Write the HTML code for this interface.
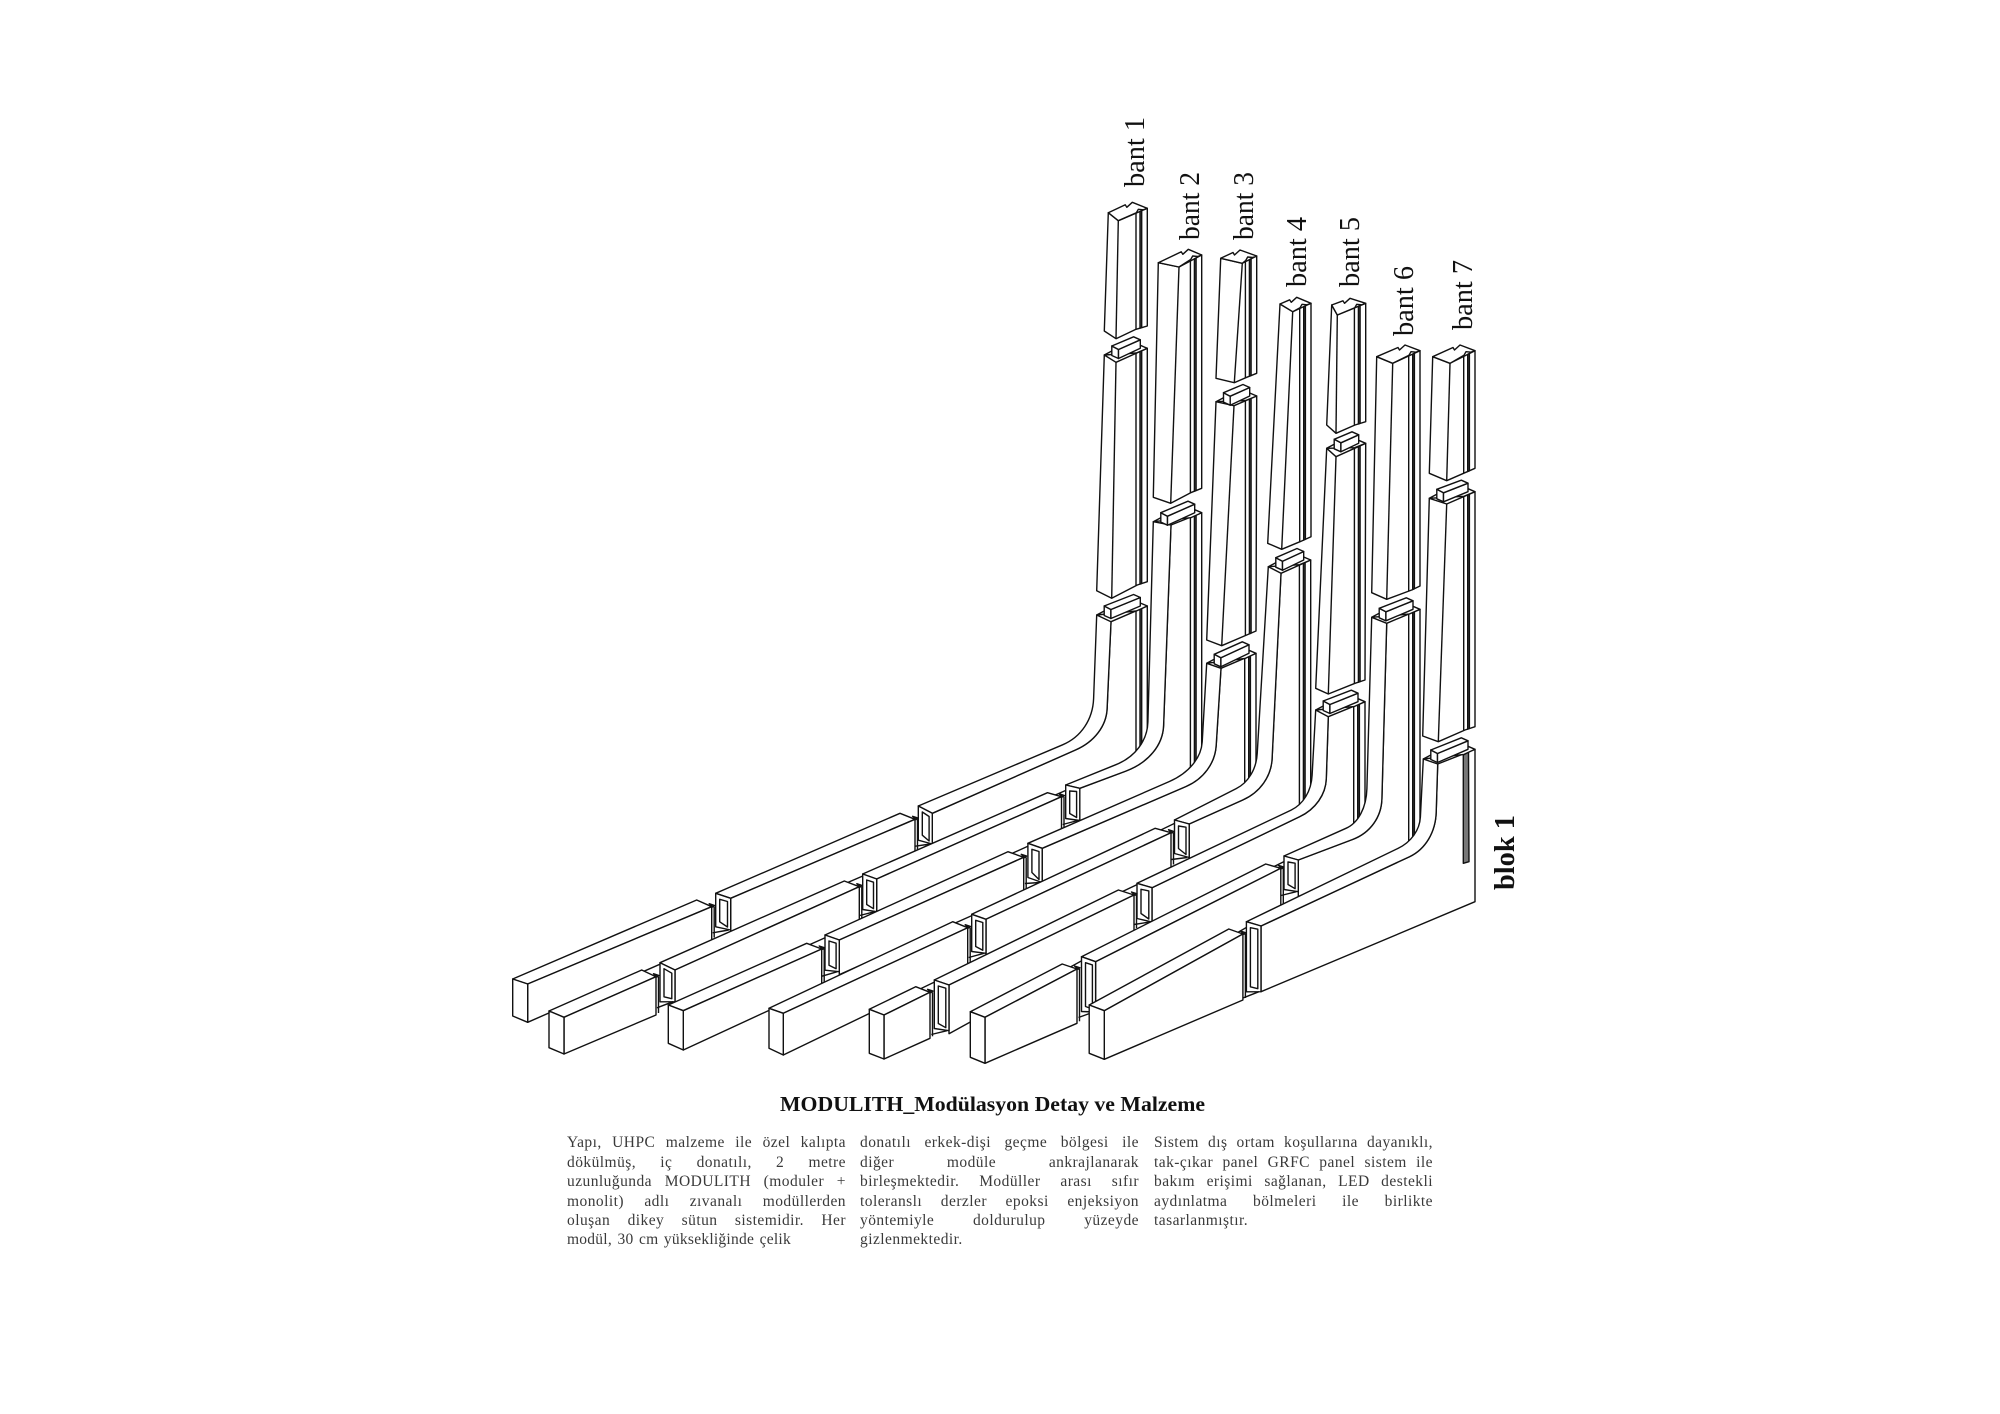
<!DOCTYPE html>
<html><head><meta charset="utf-8"><style>
html,body{margin:0;padding:0;background:#fff}
#p{position:relative;width:2000px;height:1414px;overflow:hidden;background:#fff}
svg{position:absolute;left:0;top:0}
.l{position:absolute;height:19px;line-height:19px;font-family:"Liberation Serif",serif;font-size:15.5px;letter-spacing:.45px;color:#3a3a3a;white-space:normal;text-align:justify;text-align-last:justify}
</style></head><body><div id="p">
<svg id="s" width="2000" height="1414" viewBox="0 0 2000 1414" xmlns="http://www.w3.org/2000/svg">
<g id="g" fill="#fff" stroke="#111" stroke-width="1.4" stroke-linejoin="round"></g>
<g font-family="Liberation Serif, serif" fill="#111" font-size="28">
<text transform="translate(1144,187) rotate(-90)" textLength="70" lengthAdjust="spacingAndGlyphs">bant 1</text>
<text transform="translate(1199,240) rotate(-90)" textLength="68" lengthAdjust="spacingAndGlyphs">bant 2</text>
<text transform="translate(1253,240) rotate(-90)" textLength="68" lengthAdjust="spacingAndGlyphs">bant 3</text>
<text transform="translate(1306,287) rotate(-90)" textLength="70" lengthAdjust="spacingAndGlyphs">bant 4</text>
<text transform="translate(1359,287) rotate(-90)" textLength="70" lengthAdjust="spacingAndGlyphs">bant 5</text>
<text transform="translate(1413,336) rotate(-90)" textLength="70" lengthAdjust="spacingAndGlyphs">bant 6</text>
<text transform="translate(1472,330) rotate(-90)" textLength="70" lengthAdjust="spacingAndGlyphs">bant 7</text>
<text transform="translate(1514,890) rotate(-90)" textLength="75" lengthAdjust="spacingAndGlyphs" font-weight="bold">blok 1</text>
<text x="780" y="1111" font-size="21" font-weight="bold" textLength="425" lengthAdjust="spacingAndGlyphs">MODULITH_Modülasyon Detay ve Malzeme</text>
</g>
</svg>
<div class="l" style="left:567px;top:1133px;width:279px">Yapı, UHPC malzeme ile özel kalıpta</div>
<div class="l" style="left:567px;top:1153px;width:279px">dökülmüş, iç donatılı, 2 metre</div>
<div class="l" style="left:567px;top:1172px;width:279px">uzunluğunda MODULITH (moduler +</div>
<div class="l" style="left:567px;top:1192px;width:279px">monolit) adlı zıvanalı modüllerden</div>
<div class="l" style="left:567px;top:1211px;width:279px">oluşan dikey sütun sistemidir. Her</div>
<div class="l" style="left:567px;top:1230px;width:224px;letter-spacing:.25px">modül, 30 cm yüksekliğinde çelik</div>
<div class="l" style="left:860px;top:1133px;width:279px">donatılı erkek-dişi geçme bölgesi ile</div>
<div class="l" style="left:860px;top:1153px;width:279px">diğer modüle ankrajlanarak</div>
<div class="l" style="left:860px;top:1172px;width:279px">birleşmektedir. Modüller arası sıfır</div>
<div class="l" style="left:860px;top:1192px;width:279px">toleranslı derzler epoksi enjeksiyon</div>
<div class="l" style="left:860px;top:1211px;width:279px">yöntemiyle doldurulup yüzeyde</div>
<div class="l" style="left:860px;top:1230px;width:105px;text-align-last:left">gizlenmektedir.</div>
<div class="l" style="left:1154px;top:1133px;width:279px">Sistem dış ortam koşullarına dayanıklı,</div>
<div class="l" style="left:1154px;top:1153px;width:279px">tak-çıkar panel GRFC panel sistem ile</div>
<div class="l" style="left:1154px;top:1172px;width:279px">bakım erişimi sağlanan, LED destekli</div>
<div class="l" style="left:1154px;top:1192px;width:279px">aydınlatma bölmeleri ile birlikte</div>
<div class="l" style="left:1154px;top:1211px;width:100px;text-align-last:left">tasarlanmıştır.</div>
</div>
<script>
var g=document.getElementById('g'),NS='http://www.w3.org/2000/svg';
function el(d,fill){var e=document.createElementNS(NS,'path');e.setAttribute('d',d);if(fill)e.setAttribute('fill',fill);g.appendChild(e);}
function pp(a){return a[0].toFixed(1)+' '+a[1].toFixed(1);}
function P(a,fill){el('M'+a.map(pp).join('L')+'Z',fill);}
function L(a,b){el('M'+pp(a)+'L'+pp(b),'none');}
function add(a,x,y){return [a[0]+x,a[1]+y];}
function lerp(a,b,x){var t=(x-a[0])/(b[0]-a[0]);return a[1]+(b[1]-a[1])*t;}
function grooves(TF,TR,B0,B1,ext){
  ext=ext||0;
  var x0=TR[0]-7.3,x1=TR[0]-5.6;
  P([[x0,lerp(TF,TR,x0)],[x1,lerp(TF,TR,x1)],[x1,lerp(B0,B1,x1)+ext],[x0,lerp(B0,B1,x0)+ext]],'#555');
  var x=TR[0]-11.3;L([x,lerp(TF,TR,x)],[x,lerp(B0,B1,x)+ext]);
}
function tenon(TL,TR){
  var LT=add(TL,7.5,-9),RT=add(TR,-7,-8.5),Bk=add(RT,-6.7,-3),Fr=add(LT,6.7,3.5),FB=add(Fr,0,9),LB=add(LT,0,9.5),RB=add(RT,0,8.5);
  P([TL,add(TL,7.5,-4),add(TR,-7,-3),TR,[TR[0]-11,lerp(TL,TR,TR[0]-11)+3]]);
  P([LT,Fr,FB,LB]);P([Fr,RT,RB,FB]);P([LT,Bk,RT,Fr]);
}
function mod(m){
  P([m.TL,m.BL,m.BF,m.G,m.BR,m.TR,m.TF]);
  L(m.TF,m.BF);
  grooves(m.TF,m.TR,m.G,m.BR);
  if(m.Bk){
    var k=m.Bk;
    P([m.TL,add(k,-7,2.5),add(k,-5.5,5),k,m.TR,add(m.TR,-4,1.5),add(m.TR,-9,1),add(m.TR,-11,4.5),m.TF]);
  } else tenon(m.TL,m.TR);
}
var E=8;
function seg(a,p1,p2,j){
  var u1=[p1[0]-a[0],p1[1]-a[1]],n1=Math.hypot(u1[0],u1[1]);u1=[u1[0]/n1,u1[1]/n1];
  var u2=[p2[0]-j[0],p2[1]-j[1]],n2=Math.hypot(u2[0],u2[1]);u2=[u2[0]/n2,u2[1]/n2];
  var s=[p1[0]-u1[0]*E,p1[1]-u1[1]*E],t=[p2[0]-u2[0]*E,p2[1]-u2[1]*E];
  var det=u1[0]*(-u2[1])-u1[1]*(-u2[0]);
  var dx=t[0]-s[0],dy=t[1]-s[1];
  var q=(dx*(-u2[1])-dy*(-u2[0]))/det;
  var c=[s[0]+u1[0]*q,s[1]+u1[1]*q];
  var f=.62;
  var c1=[s[0]+(c[0]-s[0])*f,s[1]+(c[1]-s[1])*f],c2=[t[0]+(c[0]-t[0])*f,t[1]+(c[1]-t[1])*f];
  return 'L'+pp(s)+'C'+pp(c1)+' '+pp(c2)+' '+pp(t)+'L'+pp(j);
}
function socket(a,b,c,d){
  var d2=add(d,0,3.5);
  P([a,b,c,d2]);
  var i1=add(a,4,6),i2=add(b,-3.2,3.2),i3=add(c,-3.2,-3),i4=add(d,4,-1.5);
  P([i1,i2,i3,i4]);
  L(add(d2,-3,6),add(c,-2,0));
}
function ell(l){
  var b=l.bigBottom,bottom,rp;
  if(b){rp=[l.TR[0],b[1]];bottom='L'+pp(l.J3);}
  else{
    var e=[l.g[0]-26,l.g[1]+21];
    rp=add(l.r,0,10);
    bottom='C'+pp([l.TR[0],rp[1]+18])+' '+pp([l.g[0]+8,l.g[1]+10])+' '+pp(e)+'L'+pp(add(l.J3,0,5));
  }
  el('M'+pp(l.TF)+'L'+pp(l.TR)+'L'+pp(rp)+bottom+'L'+pp(l.J2)+seg(l.J2,l.f2,l.f1,l.TF)+'Z');
  el('M'+pp(l.TL)+seg(l.TL,l.o1,l.o2,l.J1)+'L'+pp(l.J2)+seg(l.J2,l.f2,l.f1,l.TF)+'Z');
  if(!b){grooves(l.TF,l.TR,l.g,l.r,6);}
  else{P([[1463.3,755],[1468.5,752],[1469,861.7],[1463.3,863.3]],'#777');}
  socket(l.J1,l.J2,l.J3,l.J4);
  tenon(l.TL,l.TR);
}
function hor(h){
  var a=h.s[0],b=h.s[1],c=h.s[2],d=h.s[3];
  var br=h.v?h.BR:add(h.BR,0,2);
  var k=h.end?c:add(c,0,3);
  P([a,h.B,h.FR,b]);
  P([b,h.FR,br,k]);
  if(h.end){P([a,b,c,d]);}else{socket(a,b,c,d);}
  L(add(h.FR,2.5,0),add(h.BR,2.5,-2));
  P([add(h.FR,-2.5,-3),add(h.FR,3,-1.2),add(h.FR,1,.3)],'#333');
}
var D=[
{m:[
 {TL:[1108.3,212.7],TF:[1118.3,220.7],TR:[1147.3,208.3],Bk:[1132.3,202.3],BL:[1104.3,331],BF:[1116,338.7],G:[1136,329.3],BR:[1147.3,326]},
 {TL:[1104.3,355],TF:[1116,362.3],TR:[1147.3,348.3],BL:[1096.7,590.7],BF:[1111.7,598.3],G:[1137.3,585],BR:[1147.3,581.7]}],
 l:{TL:[1096.7,615],TF:[1111,621.7],TR:[1147.3,606],o1:[1093.3,706.7],o2:[1070,741.7],f1:[1106.7,716.7],f2:[1083,746.7],g:[1136,750],r:[1147.3,730],J1:[918.3,806],J2:[932.3,813.3],J3:[932.3,844],J4:[918.3,836.7]},
 h:[{s:[[715.7,893.3],[730.7,898.3],[730.7,930],[715.7,923.3]],B:[900,813.3],FR:[915,819.3],BR:[915,851.5]},
    {end:1,s:[[512.7,979],[527.7,984],[527.7,1022.3],[512.7,1016]],B:[696.7,900],FR:[711.7,906.7],BR:[711.7,939.5]}]},
{m:[{TL:[1158.3,262.7],TF:[1179,267],TR:[1201.7,255],Bk:[1188.3,249.3],BL:[1153.3,497.3],BF:[1170.7,503.3],G:[1190.7,492.7],BR:[1201.7,488.3]}],
 l:{TL:[1153.3,521.7],TF:[1171,525],TR:[1201.7,512.7],o1:[1147.7,730],o2:[1123.3,761.7],f1:[1163.3,733.3],f2:[1133.3,768.3],g:[1191,768.3],r:[1201.7,751.7],J1:[1065.7,785],J2:[1079.8,788.3],J3:[1079.8,820.5],J4:[1065.7,815]},
 h:[{s:[[862.7,874],[876.7,879],[876.7,911.7],[862.7,906]],B:[1047.5,792.7],FR:[1061.5,796.7],BR:[1061.5,829]},
    {s:[[660,962.7],[675,970],[675,1001.7],[660,998.3]],B:[844.3,881],FR:[859.3,886.7],BR:[859.3,920.5]},
    {end:1,v:1,s:[[549,1011],[564,1017.3],[564,1054],[549,1047.7]],B:[641.7,970],FR:[656,976.7],BR:[656,1015]}]},
{m:[{TL:[1220.7,258.3],TF:[1242.3,263.3],TR:[1256.7,256],Bk:[1240,250],BL:[1216,378.3],BF:[1234.3,382.7],G:[1246.7,377.3],BR:[1256.7,373.3]},
    {TL:[1216,401.7],TF:[1234,405.7],TR:[1256.7,396],BL:[1206.7,640],BF:[1221.7,645.7],G:[1246.7,635],BR:[1256,631]}],
 l:{TL:[1206.7,663.3],TF:[1221,668.3],TR:[1256,653.3],o1:[1201.7,750],o2:[1176.7,778.3],f1:[1215.7,753.3],f2:[1193.3,783.3],g:[1246.7,780],r:[1256,760],J1:[1027.9,843.3],J2:[1042.2,848.3],J3:[1042.2,882.5],J4:[1027.9,874]},
 h:[{s:[[825,935],[839.3,940],[839.3,971.7],[825,966.7]],B:[1007.9,851.7],FR:[1023.7,857.3],BR:[1023.7,890.5]},
    {end:1,s:[[668.3,1005],[683.3,1010.7],[683.3,1050],[668.3,1043.3]],B:[806.7,943.3],FR:[821.7,949],BR:[821.7,984]}]},
{m:[{TL:[1280,304],TF:[1292.7,311.7],TR:[1311,303.3],Bk:[1296.7,297.3],BL:[1267.7,543.3],BF:[1281.7,549.3],G:[1300,541.7],BR:[1311,536.7]}],
 l:{TL:[1268.3,566.7],TF:[1281,573.3],TR:[1310.7,560],o1:[1256.7,761.7],o2:[1243.3,785],f1:[1271.7,766.7],f2:[1250,796.7],g:[1300,801.7],r:[1310.7,780],J1:[1174.5,820],J2:[1189.2,824],J3:[1189.2,857.5],J4:[1174.5,850]},
 h:[{s:[[971.7,914.3],[986,919.3],[986,953.3],[971.7,948]],B:[1155.2,828.3],FR:[1171,832.7],BR:[1171,866.5]},
    {end:1,s:[[769,1008.3],[783.3,1013.3],[783.3,1055],[769,1048.3]],B:[952.7,921.7],FR:[967.7,927.7],BR:[967.7,964]}]},
{m:[{TL:[1331.7,305],TF:[1337.3,315],TR:[1365.7,303.3],Bk:[1350,298.3],BL:[1326.7,425],BF:[1336,433.3],G:[1355,425],BR:[1365.7,421.7]},
    {TL:[1326.7,448.3],TF:[1336,456.7],TR:[1365.7,443.3],BL:[1315.7,688.3],BF:[1328.3,694],G:[1355,683.3],BR:[1365,680]}],
 l:{TL:[1315.7,710],TF:[1328.3,716.7],TR:[1365,701.7],o1:[1311.7,783.3],o2:[1298.3,806.7],f1:[1326,786.7],f2:[1306.7,813.3],g:[1355,818.3],r:[1365,800],J1:[1137,883.3],J2:[1152,887.7],J3:[1152,922],J4:[1137,915]},
 h:[{s:[[934.3,980],[949,985],[949,1030.7],[934.3,1025]],B:[1118.4,890],FR:[1134,895],BR:[1134,930]},
    {end:1,v:1,s:[[869.3,1009.3],[884,1015],[884,1059],[869.3,1053.3]],B:[915.7,986.7],FR:[930,992.3],BR:[930,1038.3]}]},
{m:[{TL:[1376.7,356.7],TF:[1392.7,363.3],TR:[1420,350.7],Bk:[1405,345],BL:[1371.7,592.7],BF:[1386.7,599.3],G:[1411.7,590],BR:[1420,586]}],
 l:{TL:[1371.7,617.3],TF:[1386.7,623.3],TR:[1420,609.3],o1:[1366.7,796.7],o2:[1353.3,825],f1:[1381.7,806.7],f2:[1360,836.7],g:[1409.3,838.3],r:[1420,821.7],J1:[1284,856],J2:[1298.3,860],J3:[1298.3,891.7],J4:[1284,886]},
 h:[{s:[[1081.5,956.7],[1095.6,961.7],[1095.6,1012],[1081.5,1008]],B:[1265.7,864],FR:[1280.8,868.3],BR:[1280.8,905.5]},
    {end:1,v:1,s:[[970.3,1011.7],[985,1017.3],[985,1063.3],[970.3,1057.3]],B:[1062.2,964],FR:[1077,969],BR:[1077,1023.3]}]},
{m:[{TL:[1432.7,356.7],TF:[1450,363.3],TR:[1475,350.7],Bk:[1460,345],BL:[1429.3,473.3],BF:[1446.7,480.7],G:[1465,472.7],BR:[1475,468.3]},
    {TL:[1429.3,498.3],TF:[1446.7,504],TR:[1475,491.7],BL:[1422.7,736],BF:[1438.3,741.7],G:[1465,730],BR:[1475,726.7]}],
 l:{TL:[1423.3,759],TF:[1437.7,764],TR:[1475,749.3],o1:[1420,825],o2:[1405,845],f1:[1436,820],f2:[1416.7,853.3],bigBottom:[1475,901.7],J1:[1246.4,921.7],J2:[1261,926],J3:[1261,991.7],J4:[1246.4,988.3]},
 h:[{end:1,v:1,s:[[1089.2,1005],[1104.3,1010.7],[1104.3,1059.3],[1089.2,1053.3]],B:[1228.8,929],FR:[1242.9,934],BR:[1242.9,1000]}]}
];
D.forEach(function(b){
  b.m.forEach(mod);
  ell(b.l);
  b.h.forEach(hor);
});
</script>
</body></html>
